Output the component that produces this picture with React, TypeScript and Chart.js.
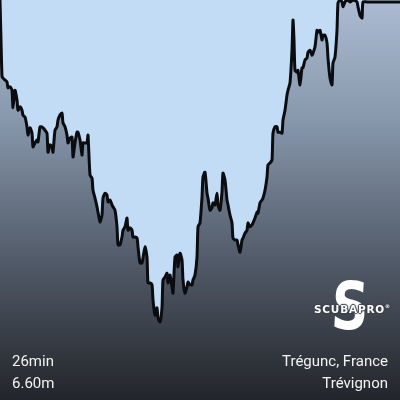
import React, { useEffect, useRef } from "react";
import { Chart, registerables } from "chart.js";

Chart.register(...registerables);

// Dive profile: elapsed time (s) and depth (m)
const timeSec: number[] = [
  0, 4, 8, 12, 20, 28, 32, 40, 48, 52,
  60, 68, 72, 80, 88, 92, 100, 108, 112, 120,
  128, 132, 140, 148, 152, 160, 168, 172, 180, 188,
  192, 200, 208, 212, 220, 228, 232, 240, 248, 252,
  260, 268, 272, 280, 288, 292, 300, 308, 312, 320,
  328, 332, 340, 348, 352, 360, 368, 372, 380, 388,
  392, 400, 408, 412, 420, 428, 432, 440, 448, 452,
  460, 468, 472, 480, 488, 492, 500, 508, 512, 520,
  528, 532, 540, 548, 552, 560, 568, 572, 580, 588,
  592, 600, 608, 612, 620, 628, 632, 640, 648, 652,
  660, 668, 672, 680, 688, 692, 700, 708, 712, 720,
  728, 732, 740, 748, 752, 760, 768, 772, 780, 788,
  792, 800, 808, 812, 820, 828, 832, 840, 848, 852,
  860, 868, 872, 880, 888, 892, 900, 908, 912, 920,
  928, 932, 940, 948, 952, 960, 968, 972, 980, 988,
  992, 1000, 1008, 1012, 1020, 1028, 1032, 1040, 1048, 1052,
  1060, 1068, 1072, 1080, 1088, 1092, 1100, 1108, 1112, 1120,
  1128, 1132, 1140, 1148, 1152, 1160, 1168, 1172, 1176, 1180,
  1188, 1192, 1200, 1208, 1212, 1220, 1228, 1232, 1240, 1248,
  1252, 1260, 1268, 1272, 1280, 1288, 1292, 1300, 1308, 1312,
  1320, 1328, 1332, 1340, 1348, 1352, 1360, 1368, 1372, 1380,
  1388, 1400, 1412, 1428, 1432, 1440, 1448, 1452, 1468, 1600,
];

const depthM: number[] = [
  0, 0.82, 1.56, 1.6, 1.64, 1.68, 1.8, 1.78, 1.85, 2.21,
  1.85, 2.05, 2.26, 2.19, 2.26, 2.36, 2.4, 2.6, 2.77, 2.62,
  2.73, 3.01, 2.93, 2.87, 2.91, 2.6, 2.6, 2.62, 2.67, 2.73,
  3.12, 2.97, 3.01, 3.12, 2.67, 2.6, 2.46, 2.36, 2.32, 2.52,
  2.6, 2.77, 2.93, 2.83, 2.81, 3.22, 2.93, 2.71, 2.71, 2.87,
  3.18, 2.93, 2.93, 2.93, 2.77, 3.59, 3.65, 3.9, 4.06, 4.24,
  4.35, 4.55, 4.41, 4.06, 3.96, 4.0, 4.14, 4.1, 4.2, 4.24,
  4.31, 4.65, 5.02, 5.02, 4.86, 4.72, 4.65, 4.47, 4.72, 4.67,
  4.72, 4.86, 4.86, 4.88, 5.06, 5.39, 5.39, 5.29, 5.06, 5.27,
  5.8, 5.8, 5.84, 6.15, 6.46, 6.31, 6.52, 6.6, 6.31, 5.74,
  5.68, 5.6, 5.8, 5.64, 5.88, 6.01, 5.27, 5.23, 5.47, 5.19,
  5.33, 5.74, 6.01, 5.88, 5.78, 5.84, 5.84, 5.74, 5.64, 5.27,
  4.65, 4.57, 4.04, 3.63, 3.53, 3.96, 4.06, 4.31, 4.26, 4.16,
  4.2, 3.96, 4.2, 4.31, 3.94, 3.55, 3.69, 4.1, 4.2, 4.41,
  4.57, 4.88, 4.92, 4.92, 5.02, 5.17, 4.92, 4.88, 4.78, 4.72,
  4.57, 4.65, 4.61, 4.57, 4.47, 4.35, 4.37, 4.16, 4.1, 4.06,
  3.9, 3.63, 3.38, 3.34, 3.28, 2.73, 2.6, 2.6, 2.71, 2.71,
  2.73, 2.46, 2.26, 1.95, 1.85, 1.7, 1.03, 0.41, 0.82, 1.44,
  1.48, 1.44, 1.74, 1.39, 1.39, 1.23, 1.19, 1.07, 1.03, 1.13,
  1.09, 0.96, 0.62, 0.66, 0.62, 0.82, 0.72, 0.72, 0.88, 1.19,
  1.6, 1.74, 1.29, 1.17, 0.62, 0.06, 0, 0.04, 0.14, 0.04,
  0, 0.04, 0, 0.04, 0.14, 0.31, 0.37, 0.04, 0.04, 0.04,
];

const durationLabel = "26min";
const maxDepthLabel = "6.60m";
const locationLabel = "Trégunc, France";
const siteLabel = "Trévignon";

const backgroundPlugin = {
  id: "bgGradient",
  beforeDraw(chart: any) {
    const { ctx, width, height } = chart;
    const g = ctx.createLinearGradient(0, 0, 0, height);
    g.addColorStop(0, "#acbbd1");
    g.addColorStop(0.3, "#8797ac");
    g.addColorStop(0.65, "#525b69");
    g.addColorStop(1, "#22252a");
    ctx.save();
    ctx.fillStyle = g;
    ctx.fillRect(0, 0, width, height);
    ctx.restore();
  },
};

export default function App() {
  const canvasRef = useRef<HTMLCanvasElement | null>(null);

  useEffect(() => {
    document.body.style.margin = "0";
    const canvas = canvasRef.current;
    if (!canvas) return;
    const chart = new Chart(canvas, {
      type: "line",
      data: {
        datasets: [
          {
            data: timeSec.map((t, i) => ({ x: t, y: depthM[i] })),
            borderColor: "#0a0c0f",
            borderWidth: 3,
            backgroundColor: "#c3dcf6",
            fill: "end",
            pointRadius: 0,
            tension: 0.2,
          },
        ],
      },
      options: {
        animation: false,
        responsive: false,
        devicePixelRatio: 1,
        layout: { padding: 0 },
        plugins: { legend: { display: false }, tooltip: { enabled: false } },
        scales: {
          x: { type: "linear", min: 0, max: 1600, display: false },
          y: { type: "linear", min: 0, max: 8.2, reverse: true, display: false },
        },
      },
      plugins: [backgroundPlugin],
    });
    return () => chart.destroy();
  }, []);

  const textStyle: React.CSSProperties = {
    position: "absolute",
    color: "#f2f2f2",
    fontFamily: "Roboto, sans-serif",
    fontSize: "15px",
    lineHeight: "15px",
    whiteSpace: "nowrap",
  };

  return (
    <div style={{ position: "relative", width: 400, height: 400, overflow: "hidden" }}>
      <canvas ref={canvasRef} width={400} height={400} style={{ display: "block" }} />
      <div style={{ ...textStyle, left: 12, top: 354 }}>{durationLabel}</div>
      <div style={{ ...textStyle, left: 12, top: 376 }}>{maxDepthLabel}</div>
      <div style={{ ...textStyle, right: 12, top: 354 }}>{locationLabel}</div>
      <div style={{ ...textStyle, right: 12, top: 376 }}>{siteLabel}</div>
      <div
        style={{
          position: "absolute",
          left: 324,
          top: 272,
          width: 52,
          height: 70,
          textAlign: "center",
          color: "#ffffff",
          fontFamily: "'DejaVu Sans', sans-serif",
          fontWeight: "bold",
          fontSize: "66px",
          lineHeight: "70px",
          transform: "scaleX(0.78) skewX(-4deg)",
        }}
      >
        S
      </div>
      <div
        style={{
          position: "absolute",
          left: 314,
          top: 300,
          color: "#ffffff",
          fontFamily: "'DejaVu Sans', sans-serif",
          fontWeight: "bold",
          fontSize: "10.5px",
          lineHeight: "12px",
          letterSpacing: "0.8px",
          textShadow:
            "0 0 2px #3e444d, 1px 0 1px #3e444d, -1px 0 1px #3e444d, 0 1px 1px #3e444d, 0 -1px 1px #3e444d",
          whiteSpace: "nowrap",
        }}
      >
        SCUBAPRO<sup style={{ fontSize: "5px" }}>®</sup>
      </div>
    </div>
  );
}
